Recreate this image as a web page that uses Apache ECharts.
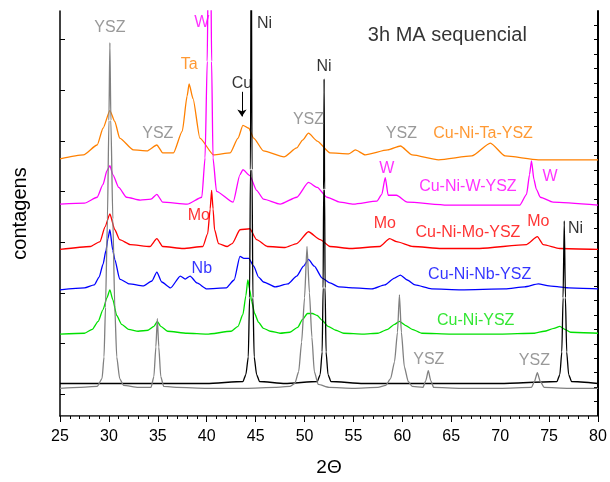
<!DOCTYPE html>
<html>
<head>
<meta charset="utf-8">
<script src="https://cdn.jsdelivr.net/npm/echarts@6/dist/echarts.min.js"></script>
<style>
  html, body { margin: 0; padding: 0; background: #fff; }
  #main { width: 610px; height: 482px; }
</style>
</head>
<body>
<div id="main"></div>
<script>
// patterns: [2theta, counts (offset, arbitrary)]
const ysz = [[25, 28], [27, 29], [28.8, 30], [29.3, 38], [29.5, 60], [29.65, 110], [29.85, 200], [30.0, 300], [30.1, 379], [30.2, 300], [30.4, 200], [30.6, 110], [30.8, 60], [31.1, 38], [31.5, 31], [33, 29], [34.3, 29], [34.6, 40], [34.8, 70], [34.95, 99], [35.1, 70], [35.3, 40], [35.6, 30], [37, 29], [40, 28], [44, 28], [47, 29], [48.5, 30], [49.0, 33], [49.4, 45], [49.7, 75], [50.0, 120], [50.25, 172], [50.5, 125], [50.75, 80], [51.0, 45], [51.4, 32], [52.5, 29], [55, 28], [57.5, 29], [58.3, 31], [58.8, 38], [59.2, 55], [59.5, 85], [59.7, 123], [59.9, 85], [60.2, 50], [60.6, 35], [61.0, 30], [62.1, 29], [62.4, 36], [62.65, 46], [62.9, 36], [63.2, 29], [66, 28], [70, 28], [73.2, 29], [73.5, 35], [73.8, 44], [74.1, 35], [74.5, 29], [77, 28], [80, 28]];
const ni = [[25, 33], [30, 33], [35, 33], [40, 33], [43.7, 35], [44.0, 42], [44.25, 60], [44.38, 120], [44.47, 250], [44.55, 520], [44.63, 250], [44.72, 120], [44.85, 60], [45.1, 42], [45.4, 35], [48, 33], [51.3, 35], [51.6, 42], [51.8, 65], [51.9, 130], [51.95, 230], [52.0, 342], [52.05, 230], [52.1, 130], [52.2, 65], [52.4, 42], [52.7, 35], [56, 33], [60, 33], [65, 33], [70, 33], [75.8, 35], [76.1, 42], [76.3, 65], [76.43, 120], [76.55, 198], [76.67, 120], [76.8, 65], [77.0, 42], [77.3, 35], [80, 33]];
const cuNi = [[25, 83], [27.5, 84], [28.3, 88], [28.9, 96], [29.4, 108], [29.8, 120], [30.1, 128], [30.4, 118], [30.8, 102], [31.3, 93], [32, 88], [33, 86], [34, 87], [34.6, 91], [34.95, 96], [35.3, 91], [36, 86], [38, 84], [40, 83], [42.5, 86], [43.2, 91], [43.7, 103], [44.0, 122], [44.2, 138], [44.4, 128], [44.6, 116], [44.9, 104], [45.3, 95], [45.8, 89], [46.5, 86], [47.5, 84], [48.5, 85], [49.3, 90], [49.8, 98], [50.3, 104], [50.8, 104], [51.3, 102], [51.8, 97], [52.4, 91], [53.2, 87], [54, 84], [56, 83], [57.5, 84], [58.5, 88], [59.2, 93], [59.7, 96], [60.3, 92], [61.0, 88], [62, 84], [65, 83], [70, 83], [73.5, 84], [74.5, 86], [75.5, 89], [76.1, 91], [76.6, 88], [77.2, 85], [80, 84]];
const cuNiNb = [[25, 128], [27.5, 130], [28.5, 133], [29.0, 141], [29.4, 154], [29.7, 168], [29.9, 180], [30.1, 189], [30.4, 168], [30.6, 159], [31.1, 139], [32.1, 134], [33.5, 132], [34.4, 137], [34.9, 146], [35.4, 136], [36.3, 130], [37.3, 142], [37.8, 139], [38.3, 142], [39.0, 135], [40.0, 129], [42.0, 130], [42.8, 138], [43.4, 162], [43.8, 160], [44.3, 160], [44.8, 152], [45.3, 141], [45.8, 136], [47.0, 131], [48.3, 134], [49.2, 142], [49.9, 152], [50.4, 159], [51.0, 152], [51.8, 140], [52.6, 135], [53.5, 131], [55, 130], [56.9, 129], [58.2, 133], [59.2, 140], [59.8, 143], [60.5, 138], [61.3, 133], [63, 129], [66, 128], [70.5, 129], [72.5, 131], [73.9, 134], [75, 132], [76, 131], [77, 130], [80, 129]];
const cuNiMo = [[25, 169], [28.1, 172], [29.1, 177], [29.6, 192], [30.1, 205], [30.6, 189], [31.1, 179], [32.2, 174], [34.2, 172], [34.9, 180], [35.5, 172], [37.6, 170], [39.6, 172], [40.1, 185], [40.35, 210], [40.5, 229], [40.65, 210], [40.8, 189], [41.2, 175], [42.1, 172], [42.6, 175], [43.4, 189], [44.4, 190], [45.1, 179], [46.2, 172], [48, 171], [49.2, 175], [50.4, 187], [51.6, 179], [52.6, 172], [54.7, 170], [57.7, 172], [58.7, 180], [59.4, 177], [61.1, 172], [64, 170], [67.9, 170], [72.7, 174], [73.8, 182], [74.4, 174], [76.1, 170], [80, 169]];
const cuNiW = [[25, 215], [27.5, 216], [28.8, 222], [29.4, 235], [29.8, 249], [30.1, 254], [30.4, 245], [31.0, 232], [31.8, 222], [33.2, 219], [34.3, 220], [34.9, 225], [35.5, 217], [38, 215], [39.5, 222], [39.83, 262], [40.05, 360], [40.15, 450], [40.28, 560], [40.42, 450], [40.5, 360], [40.64, 262], [41.0, 228], [42.7, 217], [43.4, 245], [43.7, 250], [44.4, 244], [45.1, 229], [45.8, 220], [47.5, 215], [49.2, 222], [50.4, 237], [51.3, 232], [52.3, 222], [53.6, 217], [55, 215], [57.4, 218], [57.9, 225], [58.25, 242], [58.55, 224], [59.4, 224], [60.5, 217], [64.6, 214], [72.0, 214], [72.7, 225], [73.0, 245], [73.2, 259], [73.45, 240], [73.7, 230], [74.1, 222], [75.4, 217], [80, 214]];
const cuNiTa = [[25, 261], [27.4, 265], [28.8, 275], [29.4, 292], [30.1, 310], [30.6, 299], [31.1, 282], [32.5, 270], [33.9, 269], [34.9, 275], [35.5, 267], [36.6, 267], [37.5, 289], [38.0, 325], [38.2, 337], [38.6, 322], [39.3, 282], [40.7, 265], [42.4, 267], [43.2, 282], [43.7, 295], [44.3, 292], [44.8, 282], [45.8, 269], [47.9, 263], [49.2, 272], [49.8, 280], [50.4, 287], [51.3, 279], [52.6, 267], [54.5, 266], [55.2, 270], [56.2, 265], [58.5, 270], [59.8, 274], [61.0, 265], [63.7, 260], [67.1, 264], [69.0, 277], [70.5, 264], [73.9, 260], [80, 260]];

// annotations: [text, 2theta, counts, colour]
const notes = [
  ['YSZ', 30.1, 394, '#808080'], ['W', 39.5, 399, '#ff00ff'], ['Ni', 45.9, 398, '#000'],
  ['Ta', 38.2, 357, '#ff8000'], ['Cu', 43.6, 337, '#000'], ['YSZ', 35.0, 287, '#808080'],
  ['Mo', 39.2, 203, '#ff0000'], ['Nb', 39.5, 150, '#0000ff'], ['YSZ', 50.4, 301, '#808080'],
  ['Ni', 52.0, 355, '#000'], ['YSZ', 59.9, 287, '#808080'], ['Cu-Ni-Ta-YSZ', 68.25, 287, '#ff8000'],
  ['W', 58.4, 251, '#ff00ff'], ['Cu-Ni-W-YSZ', 66.7, 233, '#ff00ff'], ['W', 75.1, 243, '#ff00ff'],
  ['Mo', 58.2, 195, '#ff0000'], ['Cu-Ni-Mo-YSZ', 66.7, 186, '#ff0000'], ['Mo', 73.9, 197, '#ff0000'],
  ['Ni', 77.7, 190, '#000'], ['Cu-Ni-Nb-YSZ', 67.9, 143, '#0000ff'], ['Cu-Ni-YSZ', 67.5, 97, '#00e000'],
  ['YSZ', 62.7, 57, '#808080'], ['YSZ', 73.5, 56, '#808080']
];
const title = ['3h MA sequencial', 64.6, 386];
const cuArrow = [[43.6, 329], [43.6, 304]];

const leftTicks = [22, 73.4, 124.9, 176.3, 227.7, 279.1, 330.6, 382];
const rightTicks = [14.5, 29.2, 43.9, 58.6, 73.3, 88, 102.7, 117.4, 132.1, 146.8, 161.5, 176.2, 190.9, 205.6, 220.3, 235, 249.7, 264.4, 279.1, 293.8, 308.5, 323.2, 337.9, 352.6, 367.3, 382, 396.7];

const font = 'Liberation Sans, Arial, sans-serif';
const chart = echarts.init(document.getElementById('main'));

function pattern(name, data, color, z) {
  return {
    name: name, type: 'line', data: data, symbol: 'none', z: z,
    smooth: 0.2, smoothMonotone: 'x',
    lineStyle: { color: color, width: 1.3 }, animation: false
  };
}

const series = [
  pattern('Cu-Ni-Ta-YSZ', cuNiTa, '#ff8000', 2),
  pattern('Cu-Ni-W-YSZ', cuNiW, '#ff00ff', 2),
  pattern('Cu-Ni-Mo-YSZ', cuNiMo, '#ff0000', 2),
  pattern('Cu-Ni-Nb-YSZ', cuNiNb, '#0000ff', 2),
  pattern('Cu-Ni-YSZ', cuNi, '#00e000', 2),
  pattern('Ni', ni, '#000000', 3),
  pattern('YSZ', ysz, '#808080', 4)
];
series[5].markLine = {
  silent: true, symbol: ['none', 'arrow'], symbolSize: 7, animation: false,
  label: { show: false },
  lineStyle: { color: '#000', width: 1, type: 'solid' },
  data: [[{ coord: cuArrow[0] }, { coord: cuArrow[1] }]]
};
series.push({
  type: 'scatter', symbolSize: 0, z: 10, animation: false, silent: true,
  data: notes.map(n => ({
    value: [n[1], n[2]], name: n[0],
    label: { color: n[3] }
  })).concat([{ value: [title[1], title[2]], name: title[0], label: { color: '#000', fontSize: 20 } }]),
  label: {
    show: true, position: 'inside', fontFamily: font, fontSize: 16,
    formatter: p => p.name
  }
});

chart.setOption({
  backgroundColor: '#fff',
  grid: { left: 60, right: 12, top: 11, bottom: 60 },
  xAxis: [{
    type: 'value', min: 25, max: 80, interval: 5,
    name: '2\u0398', nameLocation: 'middle', nameGap: 42,
    nameTextStyle: { fontFamily: font, fontSize: 19, color: '#000' },
    axisLine: { lineStyle: { color: '#000', width: 1.5 } },
    axisTick: { inside: false, length: 6, lineStyle: { color: '#000' } },
    minorTick: { show: true, splitNumber: 5, length: 3, lineStyle: { color: '#000' } },
    axisLabel: { fontFamily: font, fontSize: 16, color: '#000', margin: 13 },
    splitLine: { show: false }
  }, {
    type: 'value', min: 25, max: 80, position: 'top',
    axisLine: { show: true, lineStyle: { color: '#777', width: 1 } },
    axisTick: { show: false }, axisLabel: { show: false }, splitLine: { show: false }
  }],
  yAxis: [{
    type: 'value', min: 0, max: 411,
    name: 'contagens', nameLocation: 'middle', nameGap: 30,
    nameTextStyle: { fontFamily: font, fontSize: 20, color: '#000' },
    axisLine: { show: true, lineStyle: { color: '#000', width: 1.5 } },
    axisTick: { show: true, inside: true, length: 5, customValues: leftTicks, lineStyle: { color: '#000' } },
    axisLabel: { show: false }, splitLine: { show: false }
  }, {
    type: 'value', min: 0, max: 411, position: 'right',
    axisLine: { show: true, lineStyle: { color: '#000', width: 2 } },
    axisTick: { show: true, inside: true, length: 4, customValues: rightTicks, lineStyle: { color: '#000' } },
    axisLabel: { show: false }, splitLine: { show: false }
  }],
  series: series
});
</script>
</body>
</html>
